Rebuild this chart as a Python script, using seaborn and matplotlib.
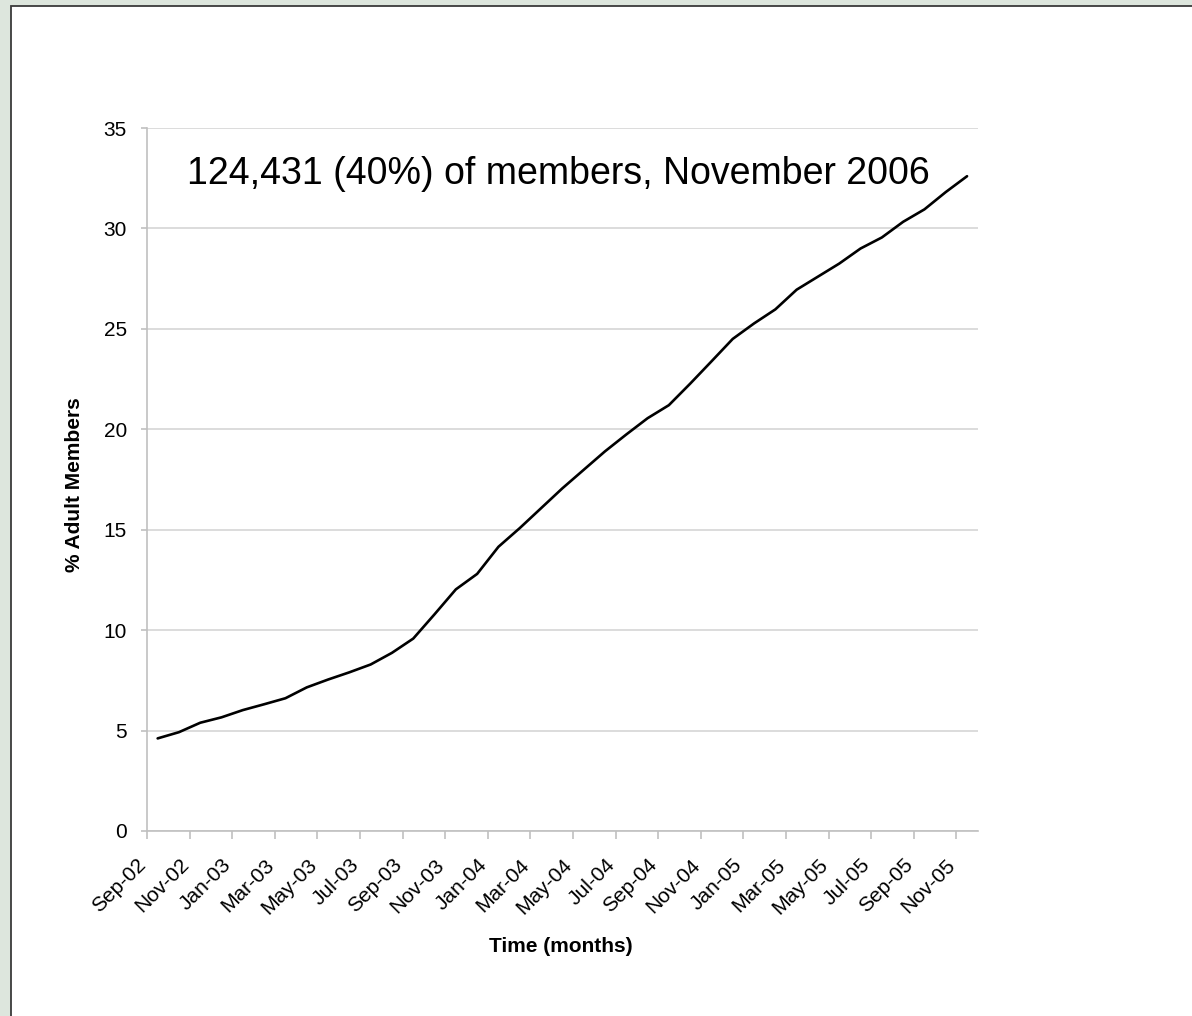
import numpy as np
import pandas as pd
import seaborn as sns
import matplotlib.pyplot as plt
from matplotlib.patches import Rectangle

# monthly share of adult members
months = ["Sep-02", "Oct-02", "Nov-02", "Dec-02", "Jan-03", "Feb-03", "Mar-03", "Apr-03",
          "May-03", "Jun-03", "Jul-03", "Aug-03", "Sep-03", "Oct-03", "Nov-03", "Dec-03",
          "Jan-04", "Feb-04", "Mar-04", "Apr-04", "May-04", "Jun-04", "Jul-04", "Aug-04",
          "Sep-04", "Oct-04", "Nov-04", "Dec-04", "Jan-05", "Feb-05", "Mar-05", "Apr-05",
          "May-05", "Jun-05", "Jul-05", "Aug-05", "Sep-05", "Oct-05", "Nov-05"]
pct_members = [4.61, 4.92, 5.39, 5.66, 6.02, 6.31, 6.61, 7.15,
               7.54, 7.90, 8.29, 8.87, 9.58, 10.79, 12.03, 12.80,
               14.15, 15.08, 16.07, 17.06, 17.98, 18.90, 19.74, 20.55,
               21.20, 22.27, 23.38, 24.50, 25.27, 25.97, 26.95, 27.60,
               28.25, 29.00, 29.55, 30.33, 30.95, 31.81, 32.60]
y_ticks = [0, 5, 10, 15, 20, 25, 30, 35]
note = "124,431 (40%) of members, November 2006"

df = pd.DataFrame({"month": months, "pct": pct_members})
df["idx"] = np.arange(len(df))

sns.set_theme(style="white")
plt.rcParams['font.family'] = ['Liberation Sans', 'DejaVu Sans']
plt.rcParams['text.color'] = 'black'
plt.rcParams['axes.labelcolor'] = 'black'

W, H = 1192, 1016
fig = plt.figure(figsize=(W / 100, H / 100), dpi=100)
fig.patch.set_facecolor('#dde6dd')
# white panel with dark border (like the pasted Excel chart area)
fig.patches.append(Rectangle((10.5 / W, -0.01), 1.0, 1 - 5.5 / H + 0.01, transform=fig.transFigure,
                             facecolor='white', edgecolor='#3a3a3a', lw=1.3, zorder=-10))

ax = fig.add_axes([147 / W, 1 - 831 / H, 830.7 / W, 703 / H])
ax.set_facecolor('none')
sns.lineplot(data=df, x="idx", y="pct", color="black", lw=1.9, ax=ax)

ax.set_xlim(-0.5, len(months) - 0.5)
ax.set_ylim(0, 35)
ax.set_yticks(y_ticks)
ax.set_xticks(np.arange(-0.5, len(months) - 1, 2))
ax.set_xticklabels(months[::2])
plt.setp(ax.get_xticklabels(), rotation=45, ha='right', va='baseline', rotation_mode='anchor')

ax.grid(axis='y', color='#d9d9d9', lw=1.3)
ax.grid(axis='x', visible=False)
sns.despine(ax=ax)
for s in ['left', 'bottom']:
    ax.spines[s].set_color('#c0c0c0')
    ax.spines[s].set_linewidth(1.2)
ax.tick_params(axis='y', left=True, length=4, width=1.2, color='#c0c0c0', pad=10.5, labelsize=15, labelcolor='black')
ax.tick_params(axis='x', bottom=True, length=6, width=1.2, color='#c0c0c0', pad=19, labelsize=15, labelcolor='black')

ax.set_xlabel("Time (months)", fontweight='bold', fontsize=15, va='center')
ax.xaxis.set_label_coords(0.498, -(946 - 831) / 703)
ax.set_ylabel("% Adult Members", fontweight='bold', fontsize=15, va='center')
ax.yaxis.set_label_coords((75 - 147) / 830.7, 0.493)

fig.text(558.5 / W, 1 - 174 / H, note, ha='center', va='center', fontsize=27)

plt.savefig("out.png", dpi=100)
